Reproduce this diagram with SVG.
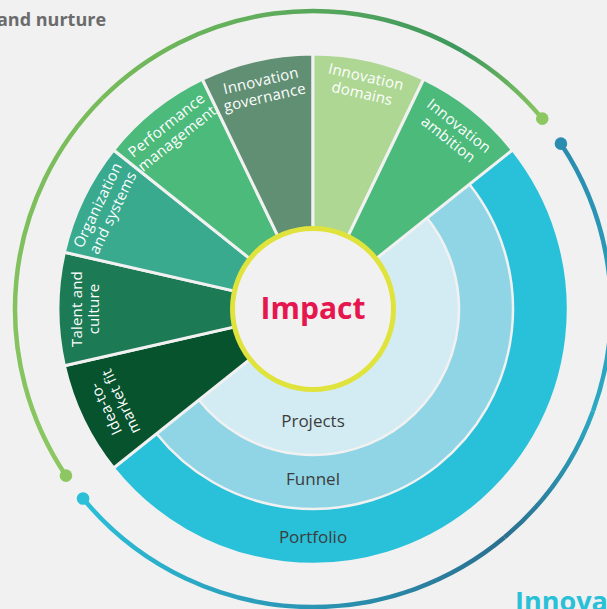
<svg xmlns="http://www.w3.org/2000/svg" width="607" height="609" viewBox="0 0 607 609">
  <style>
    .seg { stroke: #f1f1f1; stroke-width: 3; stroke-linejoin: round; }
    .ring { stroke: #f1f1f1; stroke-width: 2.5; stroke-linejoin: round; }
    .lbl { font-family: "Open Sans", "Noto Sans", sans-serif; font-size: 15px; fill: #ffffff; text-anchor: middle; letter-spacing: 0.2px; }
    .ringlbl { font-family: "Open Sans", "Noto Sans", sans-serif; font-size: 17px; fill: #3c3c3c; text-anchor: middle; }
    .arc { fill: none; stroke-width: 4.5; }
  </style>
  <defs>
    <linearGradient id="gA" gradientUnits="userSpaceOnUse" x1="65.95" y1="475.64" x2="102.28" y2="98.28">
      <stop offset="0" stop-color="#8cc762"/><stop offset="1" stop-color="#77bb5b"/>
    </linearGradient>
    <linearGradient id="gB" gradientUnits="userSpaceOnUse" x1="102.28" y1="98.28" x2="462" y2="50.92">
      <stop offset="0" stop-color="#77bb5b"/><stop offset="0.5" stop-color="#5eac5b"/><stop offset="1" stop-color="#3d985d"/>
    </linearGradient>
    <linearGradient id="gC" gradientUnits="userSpaceOnUse" x1="462" y1="50.92" x2="542.28" y2="118.65">
      <stop offset="0" stop-color="#3d985d"/><stop offset="1" stop-color="#8cc762"/>
    </linearGradient>
    <linearGradient id="bA" gradientUnits="userSpaceOnUse" x1="560.92" y1="143.66" x2="593.03" y2="410.92">
      <stop offset="0" stop-color="#2a8cae"/><stop offset="1" stop-color="#2ca9c4"/>
    </linearGradient>
    <linearGradient id="bB" gradientUnits="userSpaceOnUse" x1="593.03" y1="410.92" x2="504.55" y2="537.28">
      <stop offset="0" stop-color="#2ca9c4"/><stop offset="1" stop-color="#2b6f8f"/>
    </linearGradient>
    <linearGradient id="bC" gradientUnits="userSpaceOnUse" x1="504.55" y1="537.28" x2="313" y2="607">
      <stop offset="0" stop-color="#2b6f8f"/><stop offset="1" stop-color="#2a95b4"/>
    </linearGradient>
    <linearGradient id="bD" gradientUnits="userSpaceOnUse" x1="313" y1="607" x2="83.06" y2="498.55">
      <stop offset="0" stop-color="#2a95b4"/><stop offset="1" stop-color="#2bbfd8"/>
    </linearGradient>
  </defs>

  <rect x="0" y="0" width="607" height="609" fill="#f1f1f1"/>

  <!-- headings at the page edges -->
  <text x="-3" y="26" font-family="'Open Sans', 'Noto Sans', sans-serif" font-size="18" font-weight="bold" fill="#6b6b6b">and nurture</text>
  <text x="515" y="611" font-family="'Open Sans', 'Noto Sans', sans-serif" font-size="27" font-weight="bold" fill="#29c0d8">Innova</text>

  <!-- outer cycle arcs -->
  <g id="connectors">
    <path class="arc" stroke="url(#gA)" d="M65.95 475.64 A298 298 0 0 1 102.28 98.28"/>
    <path class="arc" stroke="url(#gB)" d="M102.28 98.28 A298 298 0 0 1 462 50.92"/>
    <path class="arc" stroke="url(#gC)" d="M462 50.92 A298 298 0 0 1 542.28 118.65"/>
    <circle cx="65.95" cy="475.64" r="6.3" fill="#8cc762"/>
    <circle cx="542.28" cy="118.65" r="6.3" fill="#8cc762"/>
    <path class="arc" stroke="url(#bA)" d="M560.92 143.66 A298 298 0 0 1 593.03 410.92"/>
    <path class="arc" stroke="url(#bB)" d="M593.03 410.92 A298 298 0 0 1 504.55 537.28"/>
    <path class="arc" stroke="url(#bC)" d="M504.55 537.28 A298 298 0 0 1 313 607"/>
    <path class="arc" stroke="url(#bD)" d="M313 607 A298 298 0 0 1 83.06 498.55"/>
    <circle cx="560.92" cy="143.66" r="6.3" fill="#2a8cae"/>
    <circle cx="83.06" cy="498.55" r="6.3" fill="#2bbfd8"/>
  </g>

  <!-- execution rings -->
  <g id="portfolio">
    <path class="ring" fill="#29c1d9" d="M313 309 L512.37 150.01 A255 255 0 0 1 471.99 508.37 A255 255 0 0 1 113.63 467.99 Z"/>
    <text class="ringlbl" x="313" y="543">Portfolio</text>
  </g>
  <g id="funnel">
    <path class="ring" fill="#8fd5e5" d="M313 309 L469.37 184.30 A200 200 0 0 1 437.70 465.37 A200 200 0 0 1 156.63 433.70 Z"/>
    <text class="ringlbl" x="313" y="485">Funnel</text>
  </g>
  <g id="projects">
    <path class="ring" fill="#d3ecf3" d="M313 309 L427.15 217.97 A146 146 0 0 1 404.03 423.15 A146 146 0 0 1 198.85 400.03 Z"/>
    <text class="ringlbl" x="313" y="427">Projects</text>
  </g>

  <!-- enabler segments -->
  <g id="idea-to-market-fit">
    <path class="seg" fill="#06532e" d="M313 309 L113.63 467.99 A255 255 0 0 1 64.39 365.74 Z"/>
    <g transform="translate(313 309) rotate(-115.71)">
      <text class="lbl" y="-225">Idea-to-</text>
      <text class="lbl" y="-208">market fit</text>
    </g>
  </g>
  <g id="talent-and-culture">
    <path class="seg" fill="#1c7a55" d="M313 309 L64.39 365.74 A255 255 0 0 1 64.39 252.26 Z"/>
    <g transform="translate(313 309) rotate(-90)">
      <text class="lbl" y="-231">Talent and</text>
      <text class="lbl" y="-214">culture</text>
    </g>
  </g>
  <g id="organization-and-systems">
    <path class="seg" fill="#3aaa8f" d="M313 309 L64.39 252.26 A255 255 0 0 1 113.63 150.01 Z"/>
    <g transform="translate(313 309) rotate(-64.29)">
      <text class="lbl" y="-234">Organization</text>
      <text class="lbl" y="-217">and systems</text>
    </g>
  </g>
  <g id="performance-management">
    <path class="seg" fill="#4bba7b" d="M313 309 L113.63 150.01 A255 255 0 0 1 202.36 79.25 Z"/>
    <g transform="translate(313 309) rotate(-38.57)">
      <text class="lbl" y="-230">Performance</text>
      <text class="lbl" y="-213">management</text>
    </g>
  </g>
  <g id="innovation-governance">
    <path class="seg" fill="#618f73" d="M313 309 L202.36 79.25 A255 255 0 0 1 313 54 Z"/>
    <g transform="translate(313 309) rotate(-12.86)">
      <text class="lbl" y="-229">Innovation</text>
      <text class="lbl" y="-212">governance</text>
    </g>
  </g>
  <g id="innovation-domains">
    <path class="seg" fill="#aed794" d="M313 309 L313 54 A255 255 0 0 1 423.64 79.25 Z"/>
    <g transform="translate(313 309) rotate(12.86)">
      <text class="lbl" y="-233">Innovation</text>
      <text class="lbl" y="-216">domains</text>
    </g>
  </g>
  <g id="innovation-ambition">
    <path class="seg" fill="#4bba7b" d="M313 309 L423.64 79.25 A255 255 0 0 1 512.37 150.01 Z"/>
    <g transform="translate(313 309) rotate(38.57)">
      <text class="lbl" y="-229">Innovation</text>
      <text class="lbl" y="-212">ambition</text>
    </g>
  </g>

  <!-- core -->
  <g id="impact">
    <circle cx="313" cy="309" r="80.5" fill="#f1f1f1" stroke="#dfe33c" stroke-width="5"/>
    <text x="313" y="319" font-family="'Open Sans', 'Noto Sans', sans-serif" font-size="30" font-weight="bold" fill="#e5174e" text-anchor="middle">Impact</text>
  </g>
</svg>
